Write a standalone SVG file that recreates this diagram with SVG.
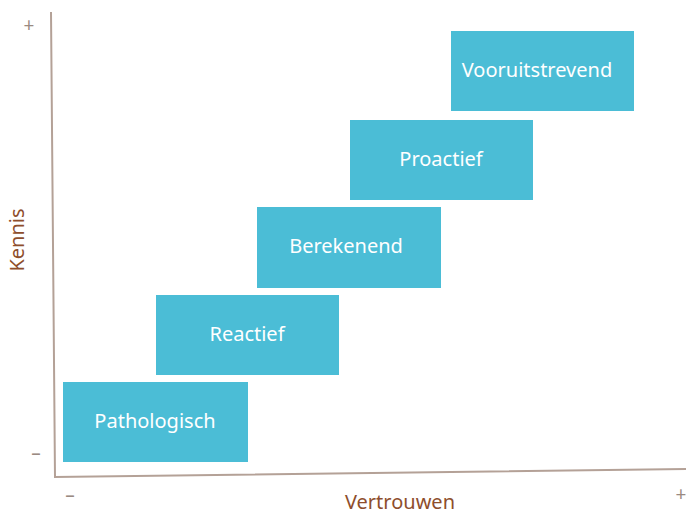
<svg xmlns="http://www.w3.org/2000/svg" width="686" height="514" viewBox="0 0 686 514">
<style>
.box{fill:#4BBDD6}
.lbl{fill:#FFFFFF;font-family:"Noto Sans","Open Sans",sans-serif;font-size:20px;text-anchor:middle}
.ax{stroke:#B4A197;stroke-width:2;fill:none}
.axl{fill:#8E4E2C;font-family:"Noto Sans","Open Sans",sans-serif;font-size:20px;text-anchor:middle}
.pm{fill:#9A8A82;font-family:"Noto Sans","Open Sans",sans-serif;font-size:19px;text-anchor:middle}
</style>
<rect width="686" height="514" fill="#FFFFFF"/>
<g id="axes">
<path class="ax" d="M51,12 L55,477 L686,469"/>
</g>
<text class="pm" x="29" y="32">+</text>
<text class="pm" x="36" y="460">–</text>
<text class="pm" x="70" y="502">–</text>
<text class="pm" x="681" y="501">+</text>
<text class="axl" transform="translate(24,240) rotate(-90)">Kennis</text>
<text class="axl" x="400" y="509">Vertrouwen</text>
<g id="pathologisch"><rect class="box" x="63" y="382" width="185" height="80"/><text class="lbl" x="155" y="428">Pathologisch</text></g>
<g id="reactief"><rect class="box" x="156" y="295" width="183" height="80"/><text class="lbl" x="247" y="341">Reactief</text></g>
<g id="berekenend"><rect class="box" x="257" y="207" width="184" height="81"/><text class="lbl" x="346" y="253">Berekenend</text></g>
<g id="proactief"><rect class="box" x="350" y="120" width="183" height="80"/><text class="lbl" x="441" y="166">Proactief</text></g>
<g id="vooruitstrevend"><rect class="box" x="451" y="31" width="183" height="80"/><text class="lbl" x="537" y="77">Vooruitstrevend</text></g>
</svg>
